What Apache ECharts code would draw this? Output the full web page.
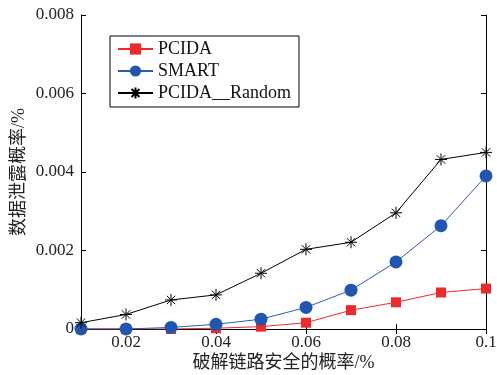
<!DOCTYPE html>
<html>
<head>
<meta charset="utf-8">
<script src="https://cdn.jsdelivr.net/npm/echarts@6/dist/echarts.min.js"></script>
<style>
  html, body { margin: 0; padding: 0; background: #fff; }
  #chart { width: 497px; height: 375px; }
</style>
</head>
<body>
<div id="chart"></div>
<script>
const xs = [0.01, 0.02, 0.03, 0.04, 0.05, 0.06, 0.07, 0.08, 0.09, 0.1];
const pcida = [0, 0, 0, 0.00002, 0.00006, 0.00016, 0.00048, 0.00068, 0.00093, 0.00103];
const smart = [0, 0, 0.00004, 0.00012, 0.00025, 0.00055, 0.00099, 0.00171, 0.00263, 0.0039];
const pcidaRandom = [0.00016, 0.00037, 0.00074, 0.00087, 0.00142, 0.00203, 0.00221, 0.00296, 0.00432, 0.0045];
const xTicks = [0.02, 0.04, 0.06, 0.08, 0.1];

const font = '"Liberation Serif", "Noto Sans CJK SC", serif';
const star = 'path://M0,-10L0,10M-10,0L10,0M-7,-7L7,7M-7,7L7,-7';

const pairs = (vals) => xs.map((x, i) => [x, vals[i]]);

const chart = echarts.init(document.getElementById('chart'));
chart.setOption({
  animation: false,
  textStyle: { fontFamily: font },
  grid: { left: 81, right: 11, top: 15, bottom: 46, containLabel: false, outerBoundsMode: 'none' },
  legend: {
    left: 110, top: 36,
    orient: 'vertical',
    borderColor: '#000', borderWidth: 1,
    padding: [4, 8, 5, 7],
    itemWidth: 35, itemHeight: 14, itemGap: 4,
    textStyle: { fontFamily: font, fontSize: 18, color: '#111' },
    data: ['PCIDA', 'SMART', 'PCIDA__Random']
  },
  xAxis: [{
    type: 'value', min: 0.01, max: 0.1,
    name: '破解链路安全的概率/%', nameLocation: 'middle', nameGap: 25, nameMoveOverlap: false,
    nameTextStyle: { fontFamily: font, fontSize: 18, color: '#222' },
    axisLine: { lineStyle: { color: '#000', width: 1 } },
    axisTick: { inside: true, length: 5, customValues: xTicks, lineStyle: { color: '#000' } },
    axisLabel: {
      customValues: xTicks, color: '#222', fontSize: 17, margin: 5,
      formatter: (v) => String(+v.toFixed(2))
    },
    splitLine: { show: false }
  }, {
    type: 'value', min: 0.01, max: 0.1, position: 'top',
    axisLine: { lineStyle: { color: '#000', width: 1 } },
    axisTick: { inside: true, length: 5, customValues: xTicks, lineStyle: { color: '#000' } },
    axisLabel: { show: false },
    splitLine: { show: false }
  }],
  yAxis: [{
    type: 'value', min: 0, max: 0.008, interval: 0.002,
    name: '数据泄露概率/%', nameLocation: 'middle', nameGap: 53, nameMoveOverlap: false,
    nameTextStyle: { fontFamily: font, fontSize: 18, color: '#222' },
    axisLine: { show: true, lineStyle: { color: '#000', width: 1 } },
    axisTick: { inside: true, length: 5, lineStyle: { color: '#000' } },
    axisLabel: {
      color: '#222', fontSize: 17, margin: 7,
      formatter: (v) => (v === 0 ? '0' : v.toFixed(3))
    },
    splitLine: { show: false }
  }, {
    type: 'value', min: 0, max: 0.008, interval: 0.002, position: 'right',
    axisLine: { show: true, lineStyle: { color: '#000', width: 1 } },
    axisTick: { inside: true, length: 5, lineStyle: { color: '#000' } },
    axisLabel: { show: false },
    splitLine: { show: false }
  }],
  series: [{
    name: 'PCIDA', type: 'line', data: pairs(pcida),
    symbol: 'rect', symbolSize: 10,
    lineStyle: { color: '#f02828', width: 1 },
    itemStyle: { color: '#ee2a2a' }
  }, {
    name: 'SMART', type: 'line', data: pairs(smart),
    symbol: 'circle', symbolSize: 13,
    lineStyle: { color: '#2b5cb4', width: 1 },
    itemStyle: { color: '#2056b0' }
  }, {
    name: 'PCIDA__Random', type: 'line', data: pairs(pcidaRandom),
    symbol: star, symbolSize: 12,
    lineStyle: { color: '#000', width: 1 },
    itemStyle: { color: '#000', borderColor: '#000', borderWidth: 1 }
  }]
});
</script>
</body>
</html>
